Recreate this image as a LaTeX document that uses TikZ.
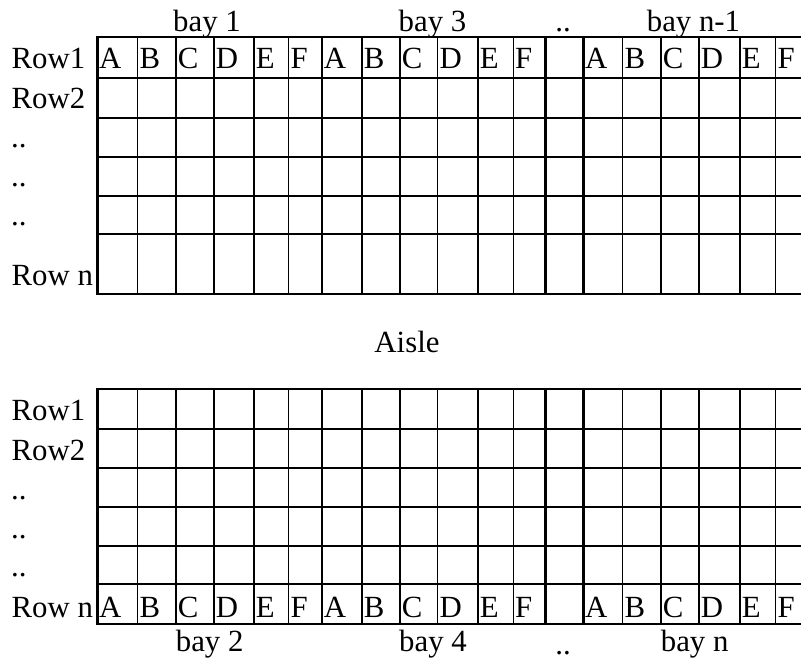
\documentclass[tikz,border=0pt]{standalone}
\usepackage{fontspec}
\setmainfont{Liberation Serif}
\begin{document}
\begin{tikzpicture}[x=1pt,y=-1pt,
  gridthin/.style={line width=1.5pt},
  gridthick/.style={line width=2.5pt, line cap=rect},
  lbl/.style={font=\fontsize{30.8}{31}\selectfont, inner sep=0pt, anchor=base west},
  ctr/.style={font=\fontsize{30.8}{31}\selectfont, inner sep=0pt, anchor=base}]
\useasboundingbox (0,0) rectangle (801,663);
\begin{scope}
\clip (0,0) rectangle (801,663);
% thin horizontal lines
\foreach \y in {78,118,157,196,234,429,468,507,546,584}
  \draw[gridthin] (97.3,\y) -- (809,\y);
% thin vertical lines
\foreach \x in {137.7,176,214,254,288.7,362,400,437.7,478,513.3,622.7,661,699,740,775.7} {
  \draw[gridthin] (\x,37) -- (\x,294);
  \draw[gridthin] (\x,389) -- (\x,624);
}
% gap column bottom edges (thin)
\draw[gridthin] (545.7,294) -- (583.3,294);
\draw[gridthin] (545.7,624) -- (583.3,624);
% thick vertical lines
\foreach \x in {97.3,322,545.7,583.3} {
  \draw[gridthick] (\x,37) -- (\x,294);
  \draw[gridthick] (\x,389) -- (\x,624);
}
% thick horizontal borders
\draw[gridthick] (97.3,37) -- (812,37);
\draw[gridthick] (97.3,389) -- (812,389);
\draw[gridthick] (97.3,294) -- (545.7,294);
\draw[gridthick] (583.3,294) -- (812,294);
\draw[gridthick] (97.3,624) -- (545.7,624);
\draw[gridthick] (583.3,624) -- (812,624);
\end{scope}
% cell letters
\foreach \x/\l [count=\i] in {97.3/A,137.7/B,176/C,214/D,254/E,288.7/F,322/A,362/B,400/C,437.7/D,478/E,513.3/F,583.3/A,622.7/B,661/C,699/D,740/E,775.7/F} {
  \node[lbl] (tl\i) at (\x+1.6,68.3) {\l};
  \node[lbl] (bl\i) at (\x+1.6,617.3) {\l};
}
% row labels, top grid
\node[lbl] (tr1) at (11.5,68.3) {Row1};
\node[lbl] (tr2) at (11.5,108.5) {Row2};
\node[lbl] (tr3) at (11.0,148) {..};
\node[lbl] (tr4) at (11.0,187) {..};
\node[lbl] (tr5) at (11.0,226) {..};
\node[lbl] (tr6) at (11.5,286) {Row n};
% row labels, bottom grid
\node[lbl] (br1) at (11.5,420.7) {Row1};
\node[lbl] (br2) at (11.5,460) {Row2};
\node[lbl] (br3) at (11.0,499) {..};
\node[lbl] (br4) at (11.0,538) {..};
\node[lbl] (br5) at (11.0,576) {..};
\node[lbl] (br6) at (11.5,617.3) {Row n};
% bay labels
\node[ctr] (bay1) at (207,31.7) {bay 1};
\node[ctr] (bay3) at (432.5,31.7) {bay 3};
\node[ctr] (tdots) at (563,31.7) {..};
\node[ctr] (bayn1) at (693.5,31.7) {bay n-1};
\node[ctr] (bay2) at (209.7,651.7) {bay 2};
\node[ctr] (bay4) at (433,651.7) {bay 4};
\node[ctr] (bdots) at (563,654) {..};
\node[ctr] (bayn) at (694.7,651.7) {bay n};
\node[ctr] (aisle) at (407,352.7) {Aisle};
\end{tikzpicture}
\end{document}
